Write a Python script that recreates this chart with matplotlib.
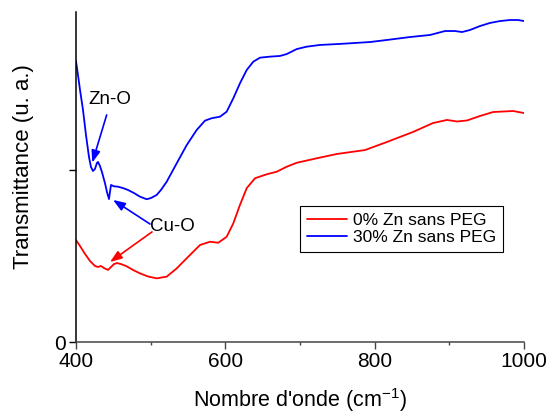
import matplotlib
matplotlib.use("Agg")
import matplotlib.pyplot as plt
from matplotlib.ticker import MultipleLocator

plt.rcParams["font.family"] = ["Liberation Sans", "DejaVu Sans"]
plt.rcParams["mathtext.fontset"] = "custom"
plt.rcParams["mathtext.rm"] = "Liberation Sans"
plt.rcParams["mathtext.it"] = "Liberation Sans:italic"

# FTIR spectra: wavenumber (cm^-1) and transmittance (arbitrary units)
wn_0zn = [400.0, 405.4, 412.1, 418.8, 425.4, 429.5, 433.5, 437.5, 442.9, 446.9,
          450.9, 454.9, 460.3, 467.0, 476.3, 485.7, 496.4, 508.1, 521.5, 534.9,
          543.3, 552.7, 566.1, 579.5, 590.6, 601.8, 610.7, 619.6, 628.6, 639.7,
          655.4, 668.8, 682.2, 695.6, 722.4, 749.2, 787.1, 816.5, 851.3, 878.1,
          896.9, 910.3, 923.7, 941.1, 958.5, 985.3, 1000.0]
tr_0zn = [0.593, 0.558, 0.512, 0.471, 0.442, 0.436, 0.442, 0.430, 0.419, 0.436,
          0.453, 0.459, 0.453, 0.442, 0.419, 0.399, 0.381, 0.370, 0.380, 0.428,
          0.465, 0.506, 0.564, 0.583, 0.577, 0.612, 0.690, 0.797, 0.894, 0.952,
          0.975, 0.990, 1.019, 1.042, 1.068, 1.093, 1.116, 1.163, 1.221, 1.273,
          1.291, 1.282, 1.288, 1.314, 1.337, 1.343, 1.331]

wn_30zn = [400.0, 402.7, 405.4, 409.4, 413.4, 417.4, 420.1, 422.8, 425.4, 428.1,
           429.5, 432.1, 434.8, 438.8, 441.5, 444.2, 445.5, 446.9, 450.9, 456.3,
           462.9, 469.6, 477.7, 485.7, 494.7, 500.4, 508.1, 513.8, 521.5, 534.9,
           548.3, 561.7, 572.8, 581.7, 592.9, 601.8, 610.7, 619.6, 628.6, 637.5,
           646.4, 659.8, 673.2, 682.2, 695.6, 709.0, 726.8, 753.6, 793.8, 816.5,
           847.3, 874.1, 894.2, 907.6, 917.0, 927.7, 941.1, 954.5, 967.9, 981.3,
           992.0, 1000.0]
tr_30zn = [1.634, 1.552, 1.465, 1.349, 1.203, 1.076, 1.017, 0.994, 1.006, 1.041,
           1.047, 1.023, 0.988, 0.924, 0.872, 0.831, 0.872, 0.913, 0.905, 0.903,
           0.895, 0.884, 0.866, 0.845, 0.830, 0.837, 0.855, 0.884, 0.932, 1.039,
           1.145, 1.233, 1.287, 1.301, 1.310, 1.339, 1.417, 1.504, 1.581, 1.630,
           1.653, 1.659, 1.663, 1.674, 1.703, 1.717, 1.727, 1.733, 1.744, 1.756,
           1.773, 1.785, 1.808, 1.808, 1.802, 1.814, 1.837, 1.855, 1.866, 1.872,
           1.872, 1.866]

series_labels = ["0% Zn sans PEG", "30% Zn sans PEG"]
x_ticks = [400, 600, 800, 1000]
y_ticks = [0, 1]
y_tick_labels = ["0", ""]

fig = plt.figure(figsize=(5.49, 4.15), dpi=100)
ax = fig.add_axes([0.1384, 0.1759, 0.8161, 0.7952])

line_kw = dict(lw=1.3, solid_joinstyle="round", solid_capstyle="round")
ax.plot(wn_0zn, tr_0zn, color="#ff0000", label=series_labels[0], **line_kw)
ax.plot(wn_30zn, tr_30zn, color="#0000ff", label=series_labels[1], **line_kw)

ax.set_xlim(400, 1000)
ax.set_ylim(0, 1.9186)
ax.set_xticks(x_ticks)
ax.xaxis.set_minor_locator(MultipleLocator(100))
ax.set_yticks(y_ticks)
ax.set_yticklabels(y_tick_labels)

for side in ("top", "right"):
    ax.spines[side].set_visible(False)
ax.spines["left"].set_linewidth(1.1)
ax.spines["bottom"].set_linewidth(1.1)
ax.spines["bottom"].set_color("#444444")

ax.tick_params(axis="both", which="major", direction="out", length=5,
               width=1.0, labelsize=15, pad=2)
ax.tick_params(axis="x", which="minor", direction="out", length=2.5, width=1.0)
ax.tick_params(axis="x", which="both", color="#444444")

ax.set_xlabel("Nombre d'onde (cm$^{\\mathregular{-1}}$)", fontsize=15.5)
ax.xaxis.label.set_va("baseline")
ax.xaxis.set_label_coords(0.5, -0.197)
ax.set_ylabel("Transmittance (u. a.)", fontsize=16)
ax.yaxis.set_label_coords(-0.094, 0.532)

# Band assignments
ax.text(445.5, 1.407, "Zn-O", fontsize=13.5, ha="center", va="center")
ax.text(528.6, 0.674, "Cu-O", fontsize=13.5, ha="center", va="center")

arrow_style = "-|>,head_length=0.6,head_width=0.22"
ax.annotate("", xy=(421.8, 1.043), xytext=(441.1, 1.320),
            arrowprops=dict(arrowstyle=arrow_style, color="#0000ff", lw=1.2,
                            mutation_scale=12, shrinkA=0, shrinkB=0))
ax.annotate("", xy=(449.6, 0.826), xytext=(499.1, 0.686),
            arrowprops=dict(arrowstyle=arrow_style, color="#0000ff", lw=1.2,
                            mutation_scale=12, shrinkA=0, shrinkB=0))
ax.annotate("", xy=(445.5, 0.465), xytext=(501.8, 0.640),
            arrowprops=dict(arrowstyle=arrow_style, color="#ff0000", lw=1.2,
                            mutation_scale=12, shrinkA=0, shrinkB=0))

leg = ax.legend(loc="upper left", bbox_to_anchor=(0.5, 0.412), borderaxespad=0,
                fontsize=12.5, frameon=True, fancybox=False, framealpha=1,
                edgecolor="black", handlelength=2.3, handletextpad=0.35,
                labelspacing=0.1, borderpad=0.4)
leg.get_frame().set_linewidth(0.8)

fig.savefig("out.png", dpi=100)
